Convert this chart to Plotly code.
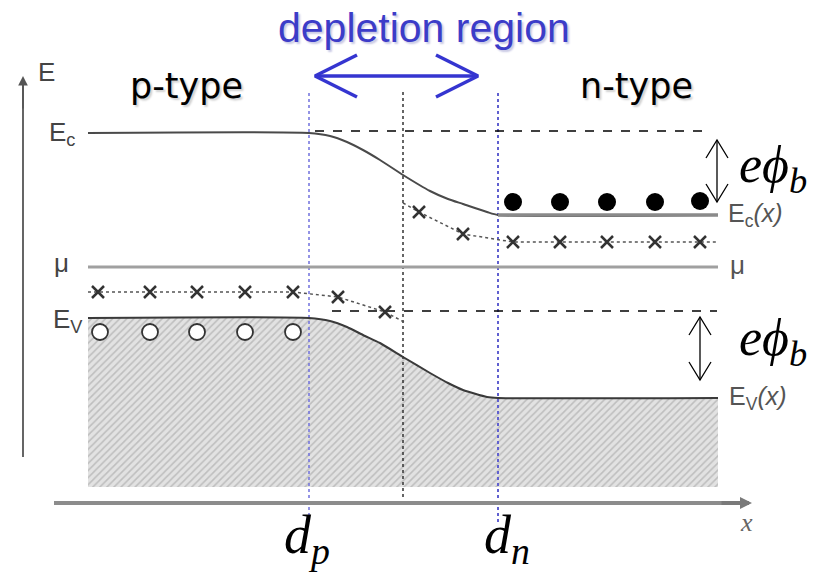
import plotly.graph_objects as go

# ---- diagram data (screen-like coordinates: x to the right, energy y downward) ----
band_x = [88, 309, 330, 347, 363, 380, 403, 430, 448, 463, 487, 498, 718]
ec_y   = [133, 133, 136, 142, 150, 160, 175, 191, 199, 204, 212, 215, 215]
ev_y   = [318, 318, 321, 327, 335, 343, 357, 373, 383, 390, 397, 398, 398]
mu_y = 267
hatch_bottom = 487

acc_line_x = [88, 293, 338, 385, 404]
acc_line_y = [292, 292, 297, 312, 322]
acc_x = [98, 150, 197, 245, 293, 338, 385]
acc_y = [292, 292, 292, 292, 292, 297, 312]

don_line_x = [403, 419, 463, 513, 718]
don_line_y = [203, 212, 234, 242, 242]
don_x = [419, 463, 513, 560, 607, 655, 700]
don_y = [212, 234, 242, 242, 242, 242, 242]

hole_x = [100, 150, 197, 245, 293]
hole_y = [332, 332, 332, 332, 332]
elec_x = [513, 560, 607, 655, 700]
elec_y = [202, 202, 202, 202, 201]

x_dp, x_dn, x_j = 309, 498, 403
barrier_top = {"x": [315, 702], "y": 131}
barrier_bot = {"x": [332, 717], "y": 311}

fig = go.Figure()

def line(x, y, color, width, dash="solid", shape="linear", smoothing=None, **kw):
    ln = dict(color=color, width=width, dash=dash, shape=shape)
    if smoothing is not None:
        ln["smoothing"] = smoothing
    fig.add_trace(go.Scatter(x=x, y=y, mode="lines", line=ln,
                             hoverinfo="skip", showlegend=False, **kw))

def dbl_arrow(x0, y0, x1, y1, hl, hw, color, width):
    dx, dy = x1 - x0, y1 - y0
    L = (dx * dx + dy * dy) ** 0.5
    ux, uy = dx / L, dy / L
    px, py = -uy, ux
    xs = [x0, x1, None,
          x0 + ux * hl + px * hw, x0, x0 + ux * hl - px * hw, None,
          x1 - ux * hl + px * hw, x1, x1 - ux * hl - px * hw]
    ys = [y0, y1, None,
          y0 + uy * hl + py * hw, y0, y0 + uy * hl - py * hw, None,
          y1 - uy * hl + py * hw, y1, y1 - uy * hl - py * hw]
    line(xs, ys, color, width)

# hatched valence region
line([band_x[0], band_x[-1]], [hatch_bottom, hatch_bottom], "rgba(0,0,0,0)", 0)
fig.add_trace(go.Scatter(x=band_x, y=ev_y, mode="lines", fill="tonexty",
                         line=dict(color="rgba(0,0,0,0)", width=0, shape="spline", smoothing=0.6),
                         fillpattern=dict(shape="/", fgcolor="#9a9a9a", bgcolor="#e2e2e2", size=5, solidity=0.32),
                         hoverinfo="skip", showlegend=False))

# vertical guide lines
line([x_dp, x_dp], [93, 525], "#7070dd", 1.5, dash="dot")
line([x_dn, x_dn], [93, 525], "#6060d0", 2, dash="dot")
line([x_j, x_j], [92, 497], "#333333", 1.5, dash="dot")

# chemical potential
line([88, 718], [mu_y, mu_y], "#a0a0a0", 3)

# band edges
line(band_x, ec_y, "#4a4a4a", 2, shape="spline", smoothing=0.6)
line(band_x[-2:], ec_y[-2:], "#8a8a8a", 3.5)
line(band_x, ev_y, "#3a3a3a", 2, shape="spline", smoothing=0.6)

# barrier reference lines
line(barrier_top["x"], [barrier_top["y"]] * 2, "#000000", 1.6, dash="dash")
line(barrier_bot["x"], [barrier_bot["y"]] * 2, "#000000", 1.6, dash="dash")

# acceptor / donor levels
line(acc_line_x, acc_line_y, "#555555", 1.5, dash="dot")
line(don_line_x, don_line_y, "#555555", 1.5, dash="dot")
fig.add_trace(go.Scatter(x=acc_x, y=acc_y, mode="markers", hoverinfo="skip", showlegend=False,
                         marker=dict(symbol="x-thin", size=12, line=dict(color="#333333", width=2.5))))
fig.add_trace(go.Scatter(x=don_x, y=don_y, mode="markers", hoverinfo="skip", showlegend=False,
                         marker=dict(symbol="x-thin", size=12, line=dict(color="#333333", width=2.5))))

# holes and electrons
fig.add_trace(go.Scatter(x=hole_x, y=hole_y, mode="markers", hoverinfo="skip", showlegend=False,
                         marker=dict(symbol="circle", size=16, color="#ffffff", line=dict(color="#333333", width=1.8))))
fig.add_trace(go.Scatter(x=elec_x, y=elec_y, mode="markers", hoverinfo="skip", showlegend=False,
                         marker=dict(symbol="circle", size=18, color="#000000")))

# axes of the diagram
line([54, 742], [503, 503], "#8c8c8c", 4)
line([23, 23], [457, 84], "#555555", 1.8)

# double arrows
dbl_arrow(717, 140, 717, 202, 18, 11, "#000000", 1.3)
dbl_arrow(700, 317, 700, 380, 18, 11, "#000000", 1.3)
dbl_arrow(315, 76, 478, 76, 42, 21, "#3535d0", 3.5)

ann = []
def text(x, y, s, size, color="#444444", family="Liberation Sans, Arial", xanchor="center", yanchor="middle", shadow=None):
    f = dict(size=size, color=color, family=family)
    if shadow:
        f["shadow"] = shadow
    ann.append(dict(x=x, y=y, xref="x", yref="y", text=s, showarrow=False, font=f,
                    xanchor=xanchor, yanchor=yanchor))

# arrowheads for the axes
ann.append(dict(x=23, y=76, ax=23, ay=110, xref="x", yref="y", axref="x", ayref="y", text="",
                showarrow=True, arrowhead=2, arrowsize=1.2, arrowwidth=1.6, arrowcolor="#555555"))
ann.append(dict(x=752, y=503, ax=720, ay=503, xref="x", yref="y", axref="x", ayref="y", text="",
                showarrow=True, arrowhead=2, arrowsize=0.6, arrowwidth=4, arrowcolor="#7a7a7a"))

text(424, 28, "depletion region", 41, color="#3c3cc8", shadow="2px 2px 2px #c8c8e4")
text(186, 86, "p-type", 35, color="#000000", family="DejaVu Sans", shadow="2px 2px 2px #d0d0d0")
text(636, 86, "n-type", 35, color="#000000", family="DejaVu Sans", shadow="2px 2px 2px #d0d0d0")

text(36, 72, "E", 26, color="#444444", xanchor="left")
text(47, 133, "E<sub>c</sub>", 26, color="#444444", xanchor="left")
text(52, 263, "μ", 26, color="#444444", xanchor="left")
text(51, 320, "E<sub>V</sub>", 26, color="#444444", xanchor="left")
text(726, 215, "E<sub>c</sub><i>(x)</i>", 25, color="#555555", xanchor="left")
text(728, 265, "μ", 26, color="#555555", xanchor="left")
text(727, 398, "E<sub>V</sub><i>(x)</i>", 25, color="#555555", xanchor="left")
text(746, 522, "<i>x</i>", 26, color="#666666", family="Liberation Serif, Times New Roman")

text(773, 168, "<i>eϕ</i><sub><i>b</i></sub>", 52, color="#000000", family="Liberation Serif, Times New Roman")
text(773, 341, "<i>eϕ</i><sub><i>b</i></sub>", 52, color="#000000", family="Liberation Serif, Times New Roman")
text(307, 538, "<i>d</i><sub><i>p</i></sub>", 54, color="#000000", family="Liberation Serif, Times New Roman")
text(507, 538, "<i>d</i><sub><i>n</i></sub>", 54, color="#000000", family="Liberation Serif, Times New Roman")

fig.update_layout(
    width=814, height=577, margin=dict(l=0, r=0, t=0, b=0),
    paper_bgcolor="white", plot_bgcolor="white",
    xaxis=dict(range=[0, 814], visible=False, fixedrange=True),
    yaxis=dict(range=[577, 0], visible=False, fixedrange=True),
    annotations=ann,
)
fig.write_html("out.html")
